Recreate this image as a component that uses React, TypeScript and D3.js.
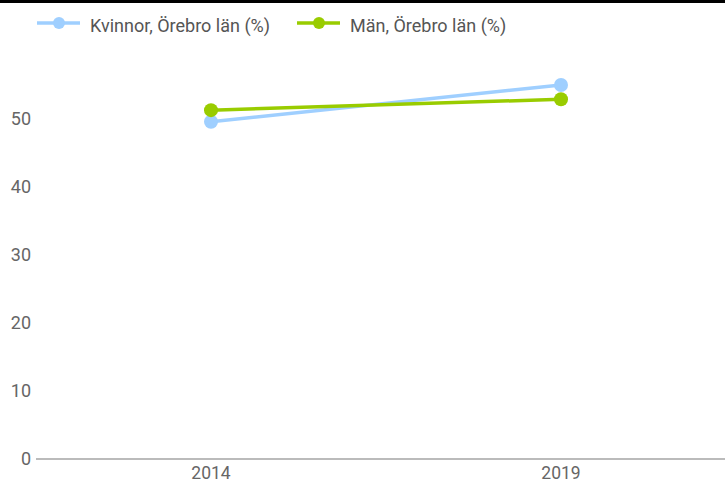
import React from "react";
import * as d3 from "d3";

const years = ["2014", "2019"];
const kvinnor = [49.6, 55.0];
const man = [51.3, 52.9];
const yTicks = [0, 10, 20, 30, 40, 50];
const seriesNames = ["Kvinnor, Örebro län (%)", "Män, Örebro län (%)"];
const seriesColors = ["#9fcfff", "#99cc00"];

export default function App() {
  const W = 725;
  const H = 483;
  const x = d3.scaleBand<string>().domain(years).range([36, 736]);
  const y = d3.scaleLinear().domain([0, 50]).range([459, 119]);
  const line = d3
    .line<number>()
    .x((_, i) => (x(years[i]) as number) + x.bandwidth() / 2)
    .y((d) => y(d));
  const series = [kvinnor, man];
  const font = "Roboto, 'Noto Sans', sans-serif";
  const legendX = [37, 297];
  return (
    <svg
      width={W}
      height={H}
      style={{ position: "absolute", left: 0, top: 0, background: "#fff" }}
      fontFamily={font}
    >
      <rect x={0} y={0} width={W} height={H} fill="#fff" />
      <line x1={0} x2={W} y1={1.5} y2={1.5} stroke="#000" strokeWidth={3} />
      {yTicks.map((t) => (
        <text
          key={t}
          x={31}
          y={y(t)}
          dy="0.35em"
          textAnchor="end"
          fontSize={18}
          fill="#666"
        >
          {t}
        </text>
      ))}
      <line x1={36} x2={W} y1={y(0)} y2={y(0)} stroke="#bbb" strokeWidth={2} />
      {years.map((yr) => (
        <text
          key={yr}
          x={(x(yr) as number) + x.bandwidth() / 2}
          y={479}
          textAnchor="middle"
          fontSize={17.5}
          fill="#666"
        >
          {yr}
        </text>
      ))}
      {series.map((s, si) => (
        <g key={si}>
          <path d={line(s) || ""} fill="none" stroke={seriesColors[si]} strokeWidth={3.5} />
          {s.map((v, i) => (
            <circle
              key={i}
              cx={(x(years[i]) as number) + x.bandwidth() / 2}
              cy={y(v)}
              r={7}
              fill={seriesColors[si]}
            />
          ))}
        </g>
      ))}
      {seriesNames.map((n, i) => (
        <g key={n} transform={`translate(${legendX[i]},23)`}>
          <line x1={0} x2={43} y1={0} y2={0} stroke={seriesColors[i]} strokeWidth={3.5} />
          <circle cx={22} cy={0} r={6} fill={seriesColors[i]} />
          <text x={53} y={9} fontSize={18} fill="#555">
            {n}
          </text>
        </g>
      ))}
    </svg>
  );
}
